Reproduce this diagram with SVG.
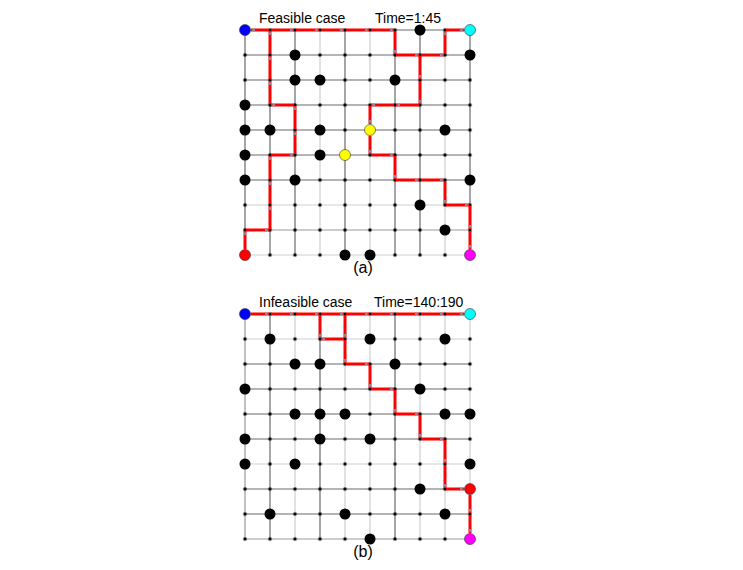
<svg xmlns="http://www.w3.org/2000/svg" width="743" height="570" viewBox="0 0 743 570">
<style>
.d{stroke:#6a6a6a;stroke-width:1.2}
.l{stroke:#cfcfcf;stroke-width:1.2}
.m{stroke:#999;stroke-width:1.2}
.e{stroke:#ff0000;stroke-width:3;marker-end:url(#ah)}
.ob{fill:#000}
.t{font-family:"Liberation Sans",Arial,sans-serif;font-size:14px;fill:#000}
.cap{font-family:"Liberation Sans",Arial,sans-serif;font-size:16px;fill:#000;text-anchor:middle}
.sp{stroke:#333;stroke-width:0.6}
</style>
<defs>
<marker id="ah" markerUnits="userSpaceOnUse" markerWidth="4" markerHeight="4" refX="4" refY="2" orient="auto"><path d="M0,0.3 L4,2 L0,3.7 z" fill="#8a8aa0"/></marker>
<pattern id="dots" patternUnits="userSpaceOnUse" x="-12.5" y="-12.5" width="25" height="25"><circle cx="12.5" cy="12.5" r="1.7" fill="#000"/></pattern>
</defs>
<rect width="743" height="570" fill="#fff"/>

<!-- Panel (a) -->
<g id="panel-a" transform="translate(245,30)">
<g id="grid-a">
<line class="d" x1="0" y1="0" x2="0" y2="225"/>
<line class="d" x1="25" y1="0" x2="25" y2="225"/>
<line class="d" x1="50" y1="0" x2="50" y2="225"/>
<line class="l" x1="75" y1="0" x2="75" y2="225"/>
<line class="d" x1="100" y1="0" x2="100" y2="225"/>
<line class="l" x1="125" y1="0" x2="125" y2="225"/>
<line class="d" x1="150" y1="0" x2="150" y2="225"/>
<line class="d" x1="175" y1="0" x2="175" y2="225"/>
<line class="l" x1="200" y1="0" x2="200" y2="225"/>
<line class="d" x1="225" y1="0" x2="225" y2="225"/>
<line class="d" x1="0" y1="0" x2="225" y2="0"/>
<line class="d" x1="0" y1="25" x2="225" y2="25"/>
<line class="d" x1="0" y1="50" x2="225" y2="50"/>
<line class="d" x1="0" y1="75" x2="225" y2="75"/>
<line class="d" x1="0" y1="100" x2="225" y2="100"/>
<line class="d" x1="0" y1="125" x2="225" y2="125"/>
<line class="d" x1="0" y1="150" x2="225" y2="150"/>
<line class="l" x1="0" y1="175" x2="225" y2="175"/>
<line class="m" x1="0" y1="200" x2="225" y2="200"/>
<line class="l" x1="0" y1="225" x2="225" y2="225"/>
<rect x="-12.5" y="-12.5" width="250" height="250" fill="url(#dots)"/>
</g>
<g id="connectors-a">
<line class="e" x1="0" y1="219" x2="0" y2="201"/>
<line class="e" x1="1" y1="200" x2="24" y2="200"/>
<line class="e" x1="25" y1="199" x2="25" y2="176"/>
<line class="e" x1="25" y1="174" x2="25" y2="151"/>
<line class="e" x1="25" y1="149" x2="25" y2="126"/>
<line class="e" x1="26" y1="125" x2="49" y2="125"/>
<line class="e" x1="50" y1="124" x2="50" y2="101"/>
<line class="e" x1="50" y1="99" x2="50" y2="76"/>
<line class="e" x1="49" y1="75" x2="26" y2="75"/>
<line class="e" x1="25" y1="74" x2="25" y2="51"/>
<line class="e" x1="25" y1="49" x2="25" y2="26"/>
<line class="e" x1="25" y1="24" x2="25" y2="1"/>
<line class="e" x1="24" y1="0" x2="6" y2="0"/>
<line class="e" x1="26" y1="0" x2="49" y2="0"/>
<line class="e" x1="51" y1="0" x2="74" y2="0"/>
<line class="e" x1="76" y1="0" x2="99" y2="0"/>
<line class="e" x1="101" y1="0" x2="124" y2="0"/>
<line class="e" x1="126" y1="0" x2="149" y2="0"/>
<line class="e" x1="150" y1="1" x2="150" y2="24"/>
<line class="e" x1="151" y1="25" x2="174" y2="25"/>
<line class="e" x1="176" y1="25" x2="199" y2="25"/>
<line class="e" x1="200" y1="24" x2="200" y2="1"/>
<line class="e" x1="201" y1="0" x2="219" y2="0"/>
<line class="e" x1="175" y1="26" x2="175" y2="49"/>
<line class="e" x1="175" y1="51" x2="175" y2="74"/>
<line class="e" x1="174" y1="75" x2="151" y2="75"/>
<line class="e" x1="149" y1="75" x2="126" y2="75"/>
<line class="e" x1="125" y1="76" x2="125" y2="94"/>
<line class="e" x1="125" y1="106" x2="125" y2="124"/>
<line class="e" x1="126" y1="125" x2="149" y2="125"/>
<line class="e" x1="150" y1="126" x2="150" y2="149"/>
<line class="e" x1="151" y1="150" x2="174" y2="150"/>
<line class="e" x1="176" y1="150" x2="199" y2="150"/>
<line class="e" x1="200" y1="151" x2="200" y2="174"/>
<line class="e" x1="201" y1="175" x2="224" y2="175"/>
<line class="e" x1="225" y1="176" x2="225" y2="199"/>
<line class="e" x1="225" y1="201" x2="225" y2="219"/>
</g>
<g id="obstacles-a" class="ob">
<circle cx="175" cy="0" r="5.5"/>
<circle cx="50" cy="25" r="5.5"/><circle cx="225" cy="25" r="5.5"/>
<circle cx="50" cy="50" r="5.5"/><circle cx="75" cy="50" r="5.5"/><circle cx="150" cy="50" r="5.5"/>
<circle cx="0" cy="75" r="5.5"/>
<circle cx="0" cy="100" r="5.5"/><circle cx="25" cy="100" r="5.5"/><circle cx="75" cy="100" r="5.5"/><circle cx="200" cy="100" r="5.5"/>
<circle cx="0" cy="125" r="5.5"/><circle cx="75" cy="125" r="5.5"/>
<circle cx="0" cy="150" r="5.5"/><circle cx="50" cy="150" r="5.5"/><circle cx="225" cy="150" r="5.5"/>
<circle cx="175" cy="175" r="5.5"/>
<circle cx="200" cy="200" r="5.5"/>
<circle cx="100" cy="225" r="5.5"/><circle cx="125" cy="225" r="5.5"/>
</g>
<g id="a-start"><circle class="sp" cx="0" cy="0" r="5.5" fill="#0000ff"/></g>
<g id="a-goal1"><circle class="sp" cx="225" cy="0" r="5.5" fill="#00ffff"/></g>
<g id="a-red"><circle class="sp" cx="0" cy="225" r="5.5" fill="#ff0000"/></g>
<g id="a-goal2"><circle class="sp" cx="225" cy="225" r="5.5" fill="#ff00ff"/></g>
<g id="a-y1"><circle class="sp" cx="125" cy="100" r="5.5" fill="#ffff00"/></g>
<g id="a-y2"><circle class="sp" cx="100" cy="125" r="5.5" fill="#ffff00"/></g>
</g>
<text class="t" x="259" y="23">Feasible case</text>
<text class="t" x="375" y="23">Time=1:45</text>
<text class="cap" x="363" y="273">(a)</text>

<!-- Panel (b) -->
<g id="panel-b" transform="translate(245,314)">
<g id="grid-b">
<line class="m" x1="0" y1="0" x2="0" y2="225"/>
<line class="d" x1="25" y1="0" x2="25" y2="225"/>
<line class="l" x1="50" y1="0" x2="50" y2="225"/>
<line class="d" x1="75" y1="0" x2="75" y2="225"/>
<line class="l" x1="100" y1="0" x2="100" y2="225"/>
<line class="l" x1="125" y1="0" x2="125" y2="225"/>
<line class="d" x1="150" y1="0" x2="150" y2="225"/>
<line class="l" x1="175" y1="0" x2="175" y2="225"/>
<line class="l" x1="200" y1="0" x2="200" y2="225"/>
<line class="l" x1="225" y1="0" x2="225" y2="225"/>
<line class="d" x1="0" y1="0" x2="225" y2="0"/>
<line class="l" x1="0" y1="25" x2="225" y2="25"/>
<line class="d" x1="0" y1="50" x2="225" y2="50"/>
<line class="d" x1="0" y1="75" x2="225" y2="75"/>
<line class="d" x1="0" y1="100" x2="225" y2="100"/>
<line class="d" x1="0" y1="125" x2="225" y2="125"/>
<line class="l" x1="0" y1="150" x2="225" y2="150"/>
<line class="d" x1="0" y1="175" x2="225" y2="175"/>
<line class="d" x1="0" y1="200" x2="225" y2="200"/>
<line class="m" x1="0" y1="225" x2="225" y2="225"/>
<rect x="-12.5" y="-12.5" width="250" height="250" fill="url(#dots)"/>
</g>
<g id="connectors-b">
<line class="e" x1="6" y1="0" x2="24" y2="0"/>
<line class="e" x1="26" y1="0" x2="49" y2="0"/>
<line class="e" x1="51" y1="0" x2="74" y2="0"/>
<line class="e" x1="76" y1="0" x2="99" y2="0"/>
<line class="e" x1="101" y1="0" x2="124" y2="0"/>
<line class="e" x1="126" y1="0" x2="149" y2="0"/>
<line class="e" x1="151" y1="0" x2="174" y2="0"/>
<line class="e" x1="176" y1="0" x2="199" y2="0"/>
<line class="e" x1="201" y1="0" x2="219" y2="0"/>
<line class="e" x1="75" y1="1" x2="75" y2="24"/>
<line class="e" x1="99" y1="25" x2="76" y2="25"/>
<line class="e" x1="100" y1="1" x2="100" y2="24"/>
<line class="e" x1="100" y1="26" x2="100" y2="49"/>
<line class="e" x1="101" y1="50" x2="124" y2="50"/>
<line class="e" x1="125" y1="51" x2="125" y2="74"/>
<line class="e" x1="126" y1="75" x2="149" y2="75"/>
<line class="e" x1="150" y1="76" x2="150" y2="99"/>
<line class="e" x1="151" y1="100" x2="174" y2="100"/>
<line class="e" x1="175" y1="101" x2="175" y2="124"/>
<line class="e" x1="176" y1="125" x2="199" y2="125"/>
<line class="e" x1="200" y1="126" x2="200" y2="149"/>
<line class="e" x1="200" y1="151" x2="200" y2="174"/>
<line class="e" x1="201" y1="175" x2="219" y2="175"/>
<line class="e" x1="225" y1="181" x2="225" y2="199"/>
<line class="e" x1="225" y1="201" x2="225" y2="219"/>
</g>
<g id="obstacles-b" class="ob">
<circle cx="25" cy="25" r="5.5"/><circle cx="125" cy="25" r="5.5"/><circle cx="200" cy="25" r="5.5"/>
<circle cx="50" cy="50" r="5.5"/><circle cx="75" cy="50" r="5.5"/><circle cx="150" cy="50" r="5.5"/>
<circle cx="0" cy="75" r="5.5"/><circle cx="175" cy="75" r="5.5"/>
<circle cx="50" cy="100" r="5.5"/><circle cx="75" cy="100" r="5.5"/><circle cx="100" cy="100" r="5.5"/><circle cx="200" cy="100" r="5.5"/><circle cx="225" cy="100" r="5.5"/>
<circle cx="0" cy="125" r="5.5"/><circle cx="75" cy="125" r="5.5"/><circle cx="125" cy="125" r="5.5"/>
<circle cx="0" cy="150" r="5.5"/><circle cx="50" cy="150" r="5.5"/><circle cx="225" cy="150" r="5.5"/>
<circle cx="175" cy="175" r="5.5"/>
<circle cx="25" cy="200" r="5.5"/><circle cx="100" cy="200" r="5.5"/><circle cx="200" cy="200" r="5.5"/>
<circle cx="125" cy="225" r="5.5"/>
</g>
<g id="b-start"><circle class="sp" cx="0" cy="0" r="5.5" fill="#0000ff"/></g>
<g id="b-goal1"><circle class="sp" cx="225" cy="0" r="5.5" fill="#00ffff"/></g>
<g id="b-red"><circle class="sp" cx="225" cy="175" r="5.5" fill="#ff0000"/></g>
<g id="b-goal2"><circle class="sp" cx="225" cy="225" r="5.5" fill="#ff00ff"/></g>
</g>
<text class="t" x="259" y="307">Infeasible case</text>
<text class="t" x="374" y="307">Time=140:190</text>
<text class="cap" x="363" y="557">(b)</text>
</svg>
